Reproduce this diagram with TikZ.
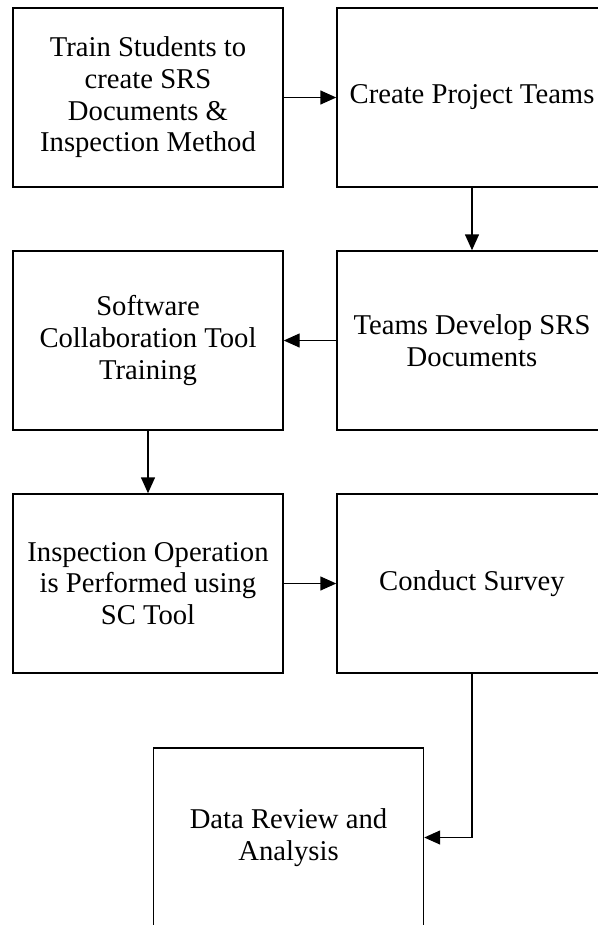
\documentclass[tikz,border=0pt]{standalone}
\usepackage{fontspec}
\setmainfont{Liberation Serif}
\usetikzlibrary{arrows.meta}
\tikzset{
  box/.style={draw, line width=1.1pt, minimum width=202.5pt, minimum height=134.25pt, inner sep=0pt, align=center, font=\fontsize{21.5}{23.8}\selectfont},
  arr/.style={line width=1.1pt, -{Triangle[length=12pt,width=10.5pt]}}
}
\begin{document}
\begin{tikzpicture}[x=0.75pt, y=-0.75pt]
\useasboundingbox (0,0) rectangle (598,925);
\fill[white] (0,0) rectangle (598,925);
\clip (0,0) rectangle (598,925);
\node[box] (b1) at (148,97.5) {Train Students to\\create SRS\\Documents \&\\Inspection Method};
\node[box] (b2) at (472,97.5) {Create Project Teams};
\node[box] (b3) at (148,340.5) {Software\\Collaboration Tool\\Training};
\node[box] (b4) at (472,340.5) {Teams Develop SRS\\Documents};
\node[box] (b5) at (148,583.5) {Inspection Operation\\is Performed using\\SC Tool};
\node[box] (b6) at (472,583.5) {Conduct Survey};
\node[box] (b7) at (288.5,837.5) {Data Review and\\Analysis};
\draw[arr] (b1) -- (b2);
\draw[arr] (b2) -- (b4);
\draw[arr] (b4) -- (b3);
\draw[arr] (b3) -- (b5);
\draw[arr] (b5) -- (b6);
\draw[arr] (b6.south) |- (b7.east);
\end{tikzpicture}
\end{document}
